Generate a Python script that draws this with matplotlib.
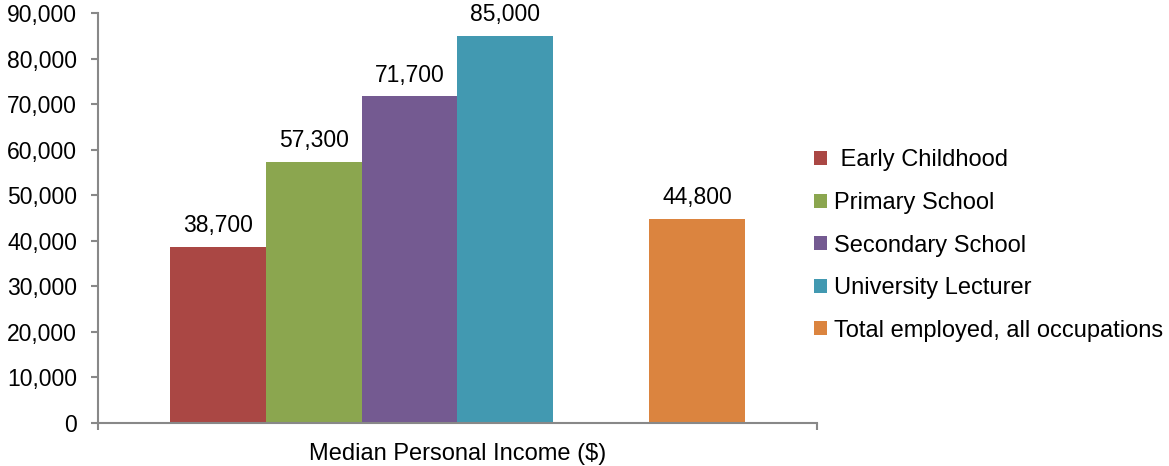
import numpy as np
import matplotlib.pyplot as plt

plt.rcParams['font.family'] = ['Liberation Sans', 'DejaVu Sans']

# median personal income by occupation
categories = [' Early Childhood', 'Primary School', 'Secondary School',
              'University Lecturer', 'Total employed, all occupations']
incomes = [38700, 57300, 71700, 85000, 44800]
colors = ['#AA4744', '#8BA64F', '#745A91', '#4299B1', '#DB843F']
y_ticks = np.arange(0, 90001, 10000)

# teaching groups side by side, all-occupations total after a one-bar gap
slots = [0, 1, 2, 3, 5]

fs = 16.5

fig = plt.figure(figsize=(11.69, 4.66), dpi=100)
ax = fig.add_axes([0.0838, 0.0923, 0.615, 0.8797])

axis_grey = '#888888'
bars = []
for pos, val, col, name in zip(slots, incomes, colors, categories):
    b = ax.bar(pos, val, width=1.0, color=col, label=name, zorder=2)
    bars.append(b)
    ax.annotate(f'{val:,}', (pos, val), xytext=(0, 7), textcoords='offset points',
                ha='center', va='bottom', fontsize=fs)

ax.set_xlim(-1.25, 6.25)
ax.set_ylim(0, 90000)
ax.set_yticks(y_ticks)
ax.set_yticklabels([f'{v:,}' for v in y_ticks], fontsize=fs)
ax.set_xticks([-1.25, 6.25])
ax.set_xticklabels([])
ax.set_xlabel('Median Personal Income ($)', fontsize=17, labelpad=6)

for side in ['top', 'right']:
    ax.spines[side].set_visible(False)
for side in ['left', 'bottom']:
    ax.spines[side].set_color(axis_grey)
    ax.spines[side].set_linewidth(1.5)
ax.tick_params(axis='both', colors=axis_grey, length=5, width=1.5, labelcolor='black')
ax.tick_params(axis='y', pad=10)

fig.legend(handles=[b[0] for b in bars], labels=categories, loc='center left',
           bbox_to_anchor=(0.696, 0.473), frameon=False, fontsize=17,
           handlelength=0.55, handleheight=0.55, handletextpad=0.3,
           labelspacing=0.87, borderpad=0, borderaxespad=0)

fig.savefig('out.png', dpi=100)
